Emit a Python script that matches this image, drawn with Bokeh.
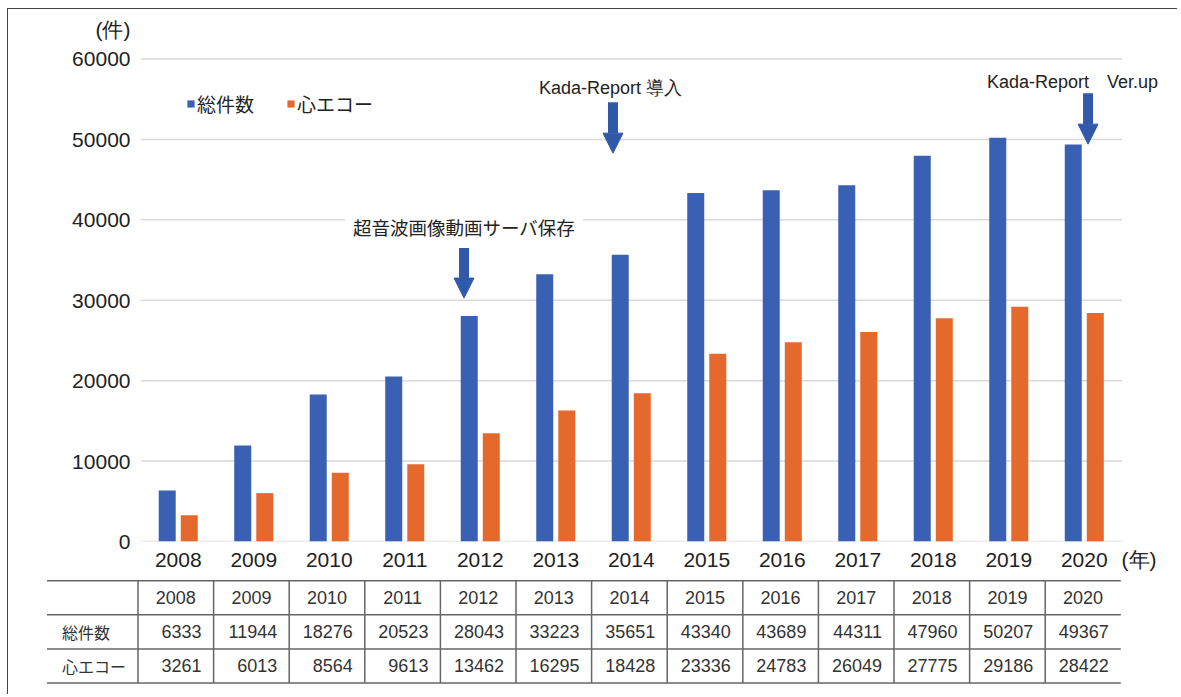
from bokeh.plotting import figure
from bokeh.models import (ColumnDataSource, Range1d, FixedTicker, CustomJSTickFormatter,
                          Legend, LegendItem, Label, Arrow, NormalHead)
from bokeh.transform import dodge
from bokeh.core.properties import value
from bokeh.embed import file_html
from bokeh.resources import INLINE

# ---------------- data ----------------
years = ["2008", "2009", "2010", "2011", "2012", "2013", "2014",
         "2015", "2016", "2017", "2018", "2019", "2020"]
total = [6333, 11944, 18276, 20523, 28043, 33223, 35651, 43340, 43689, 44311, 47960, 50207, 49367]
echo = [3261, 6013, 8564, 9613, 13462, 16295, 18428, 23336, 24783, 26049, 27775, 29186, 28422]
series_names = ["総件数", "心エコー"]
y_ticks = [0, 10000, 20000, 30000, 40000, 50000, 60000]
y_unit = "(件)"
x_unit = "(年)"
ann_texts = ["超音波画像動画サーバ保存", "Kada-Report 導入", "Kada-Report　Ver.up"]

# ---------------- style ----------------
BLUE = "#3960B3"
ORANGE = "#E5692D"
ARROW = "#3159AA"
GRID = "#D9D9D9"
TXT = "#222222"
LATIN = "Liberation Sans"
CJK = "Noto Sans CJK JP"
BORDER = "1.5px solid #444"

n = len(years)
W = 1170
src = ColumnDataSource(dict(xc=[i + 0.5 for i in range(n)], year=years, total=total, echo=echo))

p = figure(x_range=Range1d(0, 13.748), y_range=Range1d(0, 66153),
           width=W, height=566, output_backend="svg", toolbar_location=None,
           min_border_left=132, min_border_right=0, min_border_top=0, min_border_bottom=34,
           margin=(8, 0, 0, 7), styles={"border-top": BORDER, "border-left": BORDER})
p.outline_line_color = None
p.background_fill_color = "white"
p.border_fill_color = "white"
p.grid.visible = False

# horizontal gridlines limited to the category span
p.segment(x0=[0] * len(y_ticks), x1=[n] * len(y_ticks), y0=y_ticks, y1=y_ticks,
          line_color=GRID, line_width=1.5)

r1 = p.vbar(x=dodge("xc", -0.146), top="total", width=0.225, source=src,
            fill_color=BLUE, line_color=None)
r2 = p.vbar(x=dodge("xc", 0.146), top="echo", width=0.225, source=src,
            fill_color=ORANGE, line_color=None)

# y axis (top extra tick carries the unit label)
p.yaxis.ticker = FixedTicker(ticks=y_ticks + [63604])
p.yaxis.formatter = CustomJSTickFormatter(args=dict(unit=y_unit),
                                          code="return tick > 60000 ? unit : tick.toFixed(0);")
p.yaxis.axis_line_color = None
p.yaxis.major_tick_line_color = None
p.yaxis.minor_tick_line_color = None
p.yaxis.major_label_standoff = 4
p.yaxis.major_label_text_font = LATIN
p.yaxis.major_label_text_font_size = "21px"
p.yaxis.major_label_text_color = TXT

# x axis (extra tick at the right carries the unit label)
p.xaxis.ticker = FixedTicker(ticks=[i + 0.5 for i in range(n)] + [13.225])
p.xaxis.formatter = CustomJSTickFormatter(args=dict(labels=years, unit=x_unit),
                                          code="return tick > labels.length ? unit : labels[Math.floor(tick)];")
p.xaxis.axis_line_color = None
p.xaxis.major_tick_line_color = None
p.xaxis.minor_tick_line_color = None
p.xaxis.major_label_standoff = 0
p.xaxis.major_label_text_font = LATIN
p.xaxis.major_label_text_font_size = "21px"
p.xaxis.major_label_text_color = TXT

legend = Legend(items=[LegendItem(label=series_names[0], renderers=[r1]),
                       LegendItem(label=series_names[1], renderers=[r2])],
                orientation="horizontal", location=(46, 424),
                glyph_width=9, glyph_height=9, label_standoff=2, spacing=32,
                padding=0, margin=0, border_line_color=None, background_fill_alpha=0,
                label_text_font=CJK, label_text_font_size="19px", label_text_color=TXT,
                label_height=20)
p.add_layout(legend, "center")

# arrows
arrow_pos = [(4.285, 36606, 30267), (6.258, 54630, 48291), (12.550, 55749, 49409)]
for (ax, ys, ye) in arrow_pos:
    p.add_layout(Arrow(x_start=ax, y_start=ys, x_end=ax, y_end=ye, line_color=ARROW, line_width=10,
                       end=NormalHead(size=20, fill_color=ARROW, line_color=ARROW)))

p.add_layout(Label(x=2.709, y=39093, text=ann_texts[0], text_font=CJK, text_font_size="18.5px",
                   text_color=TXT, text_baseline="middle", background_fill_color="white",
                   padding=8))
p.add_layout(Label(x=5.278, y=56370, text=ann_texts[1], text_font=LATIN, text_font_size="18px",
                   text_color=TXT, text_baseline="middle"))
p.add_layout(Label(x=11.212, y=57116, text=ann_texts[2], text_font=LATIN, text_font_size="18px",
                   text_color=TXT, text_baseline="middle"))

# ---------------- table ----------------
t = figure(x_range=Range1d(-1.713, 13.763), y_range=Range1d(-0.337, 3.182),
           width=W, height=120, output_backend="svg", toolbar_location=None,
           min_border=0, margin=(0, 0, 0, 7), styles={"border-left": BORDER})
t.axis.visible = False
t.grid.visible = False
t.outline_line_color = None
t.background_fill_color = "white"
t.border_fill_color = "white"

LINE = "#666666"
TTXT = "#333333"
rows_y = list(range(4))
t.segment(x0=[-1.204] * 4, x1=[n] * 4, y0=rows_y, y1=rows_y, line_color=LINE, line_width=1.5)
cols_x = list(range(n))
t.segment(x0=cols_x, x1=cols_x, y0=[0] * n, y1=[3] * n, line_color=LINE, line_width=1.5)

t.text(x=[i + 0.5 for i in range(n)], y=[2.5] * n, text=years, text_align="center",
       text_baseline="middle", text_font=value(LATIN), text_font_size="18px", text_color=TTXT)
t.text(x=[-1.005, -1.005], y=[1.5, 0.5], text=series_names, text_align="left",
       text_baseline="middle", text_font=value(CJK), text_font_size="16px", text_color=TTXT)
t.text(x=[i + 1 - 0.159 for i in range(n)], y=[1.5] * n, text=[str(v) for v in total],
       text_align="right", text_baseline="middle", text_font=value(LATIN), text_font_size="18px",
       text_color=TTXT)
t.text(x=[i + 1 - 0.159 for i in range(n)], y=[0.5] * n, text=[str(v) for v in echo],
       text_align="right", text_baseline="middle", text_font=value(LATIN), text_font_size="18px",
       text_color=TTXT)

open("out.html", "w").write(file_html([p, t], INLINE))
